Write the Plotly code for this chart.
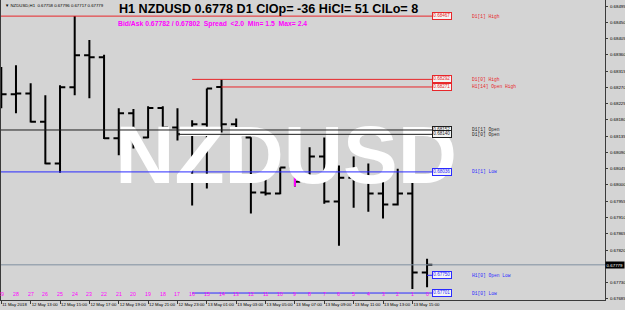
import plotly.graph_objects as go

# ---------------- data ----------------
bars_ago = list(range(29, -1, -1))
opens  = [0.68234, 0.68251, 0.68253, 0.68175, 0.68059, 0.68270, 0.68359, 0.68353, 0.68129, 0.68198,
          0.68131, 0.68213, 0.68159, 0.68140, 0.68168, 0.68271, 0.68168, 0.68131, 0.67979, 0.67976,
          0.68048, 0.68009, 0.68079, 0.67954, 0.68020, 0.68020, 0.67976, 0.67946, 0.67976, 0.67758]
highs  = [0.68326, 0.68331, 0.68281, 0.68248, 0.68276, 0.68467, 0.68401, 0.68360, 0.68212, 0.68210,
          0.68218, 0.68218, 0.68212, 0.68179, 0.68267, 0.68292, 0.68184, 0.68132, 0.68032, 0.68048,
          0.68050, 0.68104, 0.68131, 0.68054, 0.68079, 0.68059, 0.68020, 0.68045, 0.68034, 0.67796]
lows   = [0.68212, 0.68198, 0.68173, 0.68057, 0.68034, 0.68248, 0.68240, 0.68127, 0.68082, 0.68101,
          0.68129, 0.68130, 0.68123, 0.67943, 0.67990, 0.68145, 0.68076, 0.67921, 0.67971, 0.67974,
          0.67996, 0.68007, 0.67948, 0.67832, 0.67937, 0.67926, 0.67907, 0.67943, 0.67712, 0.67717]
closes = [0.68251, 0.68253, 0.68175, 0.68059, 0.68270, 0.68359, 0.68353, 0.68129, 0.68198, 0.68131,
          0.68213, 0.68159, 0.68140, 0.68168, 0.68267, 0.68168, 0.68131, 0.67979, 0.67976, 0.68048,
          0.68009, 0.68079, 0.67954, 0.68020, 0.68020, 0.67976, 0.67946, 0.67976, 0.67758, 0.67779]
highlight_bar = 9  # bar whose stem is drawn in magenta

time_tick_bars = [29, 27, 25, 23, 21, 19, 17, 15, 13, 11, 9, 7, 5, 3, 1]
time_tick_labels = ["11 May 2018", "12 May 13:00", "12 May 15:00", "12 May 17:00", "12 May 19:00",
                    "12 May 21:00", "12 May 23:00", "13 May 01:00", "13 May 03:00", "13 May 05:00",
                    "13 May 07:00", "13 May 09:00", "13 May 11:00", "13 May 13:00", "13 May 15:00"]

price_ticks = [0.68495, 0.68450, 0.68405, 0.68360, 0.68315, 0.68270, 0.68225, 0.68180, 0.68135,
               0.68090, 0.68045, 0.68000, 0.67955, 0.67910, 0.67865, 0.67820, 0.67730, 0.67685]

level_names  = ["D1[1] High", "D1[0] High", "H1[14] Open High", "D1[1] Open", "D1[0] Open",
                "D1[1] Low", "H1[0] Open Low", "D1[0] Low"]
level_prices = [0.68467, 0.68292, 0.68271, 0.68152, 0.68140, 0.68036, 0.67750, 0.67701]
level_from   = [None, 16, 14, None, 17, None, 0, 16]   # bars ago where line starts (None = left edge)
level_kind   = ["high", "high", "high", "open", "open", "low", "low", "low"]

bid, ask = 0.67782, 0.67802
last_price = 0.67779
header_ohlc = [0.67758, 0.67796, 0.67717, 0.67779]

# ---------------- styling ----------------
W, H = 625, 310
ML, MR, MT, MB = 1, 20, 0, 10
PW, PH = W - ML - MR, H - MT - MB
BG = "#d4d4d4"
KIND_COLOR = {"high": "#e8262a", "open": "#1e1e1e", "low": "#2a2aff"}
MAGENTA = "#ff00ff"

n = len(bars_ago)
xs = list(range(n))
X_RANGE = [-0.02, 41.12]
Y_RANGE = [0.676817, 0.685116]
label_x = n - 1 + 0.34
text_x = n - 1 + 2.93


def px_to_paper(px, py):
    return (px - ML) / PW, 1 - (py - MT) / PH


def idx(b):
    return n - 1 - b


fig = go.Figure()

# watermark (drawn first, below the bars)
x_span = X_RANGE[1] - X_RANGE[0]
y_span = Y_RANGE[1] - Y_RANGE[0]
fig.add_trace(go.Scatter(
    x=[X_RANGE[0] + x_span * 0.472], y=[Y_RANGE[0] + y_span * 0.458],
    mode="text", text=["NZDUSD"],
    textfont=dict(family="Liberation Sans", size=82, color="white", weight="bold"),
    hoverinfo="skip", showlegend=False))

fig.add_trace(go.Ohlc(
    x=xs, open=opens, high=highs, low=lows, close=closes,
    increasing=dict(line=dict(color="#000000", width=2)),
    decreasing=dict(line=dict(color="#000000", width=2)),
    tickwidth=0.36, hoverinfo="skip", showlegend=False))

special = [i for i in xs if bars_ago[i] == highlight_bar]
fig.add_trace(go.Ohlc(
    x=[xs[i] for i in special],
    open=[opens[i] for i in special], high=[highs[i] for i in special],
    low=[lows[i] for i in special], close=[closes[i] for i in special],
    increasing=dict(line=dict(color=MAGENTA, width=2)),
    decreasing=dict(line=dict(color=MAGENTA, width=2)),
    tickwidth=0, hoverinfo="skip", showlegend=False))

# current price line
fig.add_shape(type="line", xref="x", yref="y", x0=X_RANGE[0], x1=X_RANGE[1],
              y0=last_price, y1=last_price, line=dict(color="#7f8fa0", width=1))

# levels
for name, p, frm, kind in zip(level_names, level_prices, level_from, level_kind):
    c = KIND_COLOR[kind]
    x0 = X_RANGE[0] if frm is None else idx(frm)
    fig.add_shape(type="line", xref="x", yref="y", x0=x0, x1=label_x, y0=p, y1=p,
                  line=dict(color=c, width=1))
    fig.add_annotation(x=label_x, y=p, xref="x", yref="y", text=f"{p:.5f}", showarrow=False,
                       xanchor="left", yanchor="middle",
                       font=dict(family="Liberation Sans", size=4.6, color=c),
                       bgcolor="#f4f4f4", bordercolor=c, borderwidth=1, borderpad=0.3)
    fig.add_annotation(x=text_x, y=p, xref="x", yref="y", text=name, showarrow=False,
                       xanchor="left", yanchor="middle",
                       font=dict(family="Liberation Mono", size=4.6, color=c))

# countdown numbers
for i, b in zip(xs, bars_ago):
    fig.add_annotation(x=i, y=0, xref="x", yref="paper", text=str(b), showarrow=False,
                       xanchor="center", yanchor="bottom", yshift=1,
                       font=dict(family="Liberation Sans", size=5.2, color=MAGENTA))

# current price tag on axis
fig.add_annotation(x=1, y=last_price, xref="paper", yref="y", text=f"{last_price:.5f}",
                   showarrow=False, xanchor="left", yanchor="middle", xshift=0,
                   font=dict(family="Liberation Sans", size=4.4, color="white"),
                   bgcolor="#000000", borderpad=0.6)

# header texts
px, py = px_to_paper(3, 5)
fig.add_annotation(x=px, y=py, xref="paper", yref="paper", showarrow=False,
                   xanchor="left", yanchor="middle",
                   text="\u25bc NZDUSD,H1\u00a0\u00a0" + " ".join(f"{v:.5f}" for v in header_ohlc),
                   font=dict(family="Liberation Sans", size=4.3, color="#000000"))
d1_clop, d1_hicl, d1_cllo = -36, 51, 8
px, py = px_to_paper(117, 9.5)
fig.add_annotation(x=px, y=py, xref="paper", yref="paper", showarrow=False,
                   xanchor="left", yanchor="middle",
                   text=f"<b>H1 NZDUSD {last_price:.4f} D1 ClOp= {d1_clop} HiCl= {d1_hicl} ClLo= {d1_cllo}</b>",
                   font=dict(family="Liberation Sans", size=12.6, color="#000000"))
px, py = px_to_paper(116, 24)
sp = "\u00a0\u00a0"
fig.add_annotation(x=px, y=py, xref="paper", yref="paper", showarrow=False,
                   xanchor="left", yanchor="middle",
                   text=f"<b>Bid/Ask {bid:.5f} / {ask:.5f}{sp}Spread{sp}&lt;2.0{sp}Min= 1.5{sp}Max= 2.4</b>",
                   font=dict(family="Liberation Sans", size=6.8, color=MAGENTA))

fig.update_layout(
    width=W, height=H, margin=dict(l=ML, r=MR, t=MT, b=MB, autoexpand=False),
    paper_bgcolor=BG, plot_bgcolor=BG, showlegend=False,
    xaxis=dict(range=X_RANGE, showgrid=False, zeroline=False, showline=True,
               linecolor="#3a3a3a", linewidth=1, ticks="outside", ticklen=3, tickcolor="#3a3a3a",
               tickvals=[idx(b) for b in time_tick_bars], ticktext=time_tick_labels,
               ticklabelposition="outside right", tickangle=0, automargin=False,
               tickfont=dict(family="Liberation Sans", size=4.3, color="#000000"),
               rangeslider=dict(visible=False), fixedrange=True),
    yaxis=dict(range=Y_RANGE, side="right", showgrid=False, zeroline=False, showline=True,
               mirror=True, linecolor="#3a3a3a", linewidth=1, ticks="outside", ticklen=2,
               tickcolor="#3a3a3a", tickvals=price_ticks, automargin=False, ticklabelstandoff=1,
               ticktext=[f"{v:.5f}" for v in price_ticks],
               tickfont=dict(family="Liberation Sans", size=4.4, color="#000000"), fixedrange=True),
)

fig.write_html("out.html")
